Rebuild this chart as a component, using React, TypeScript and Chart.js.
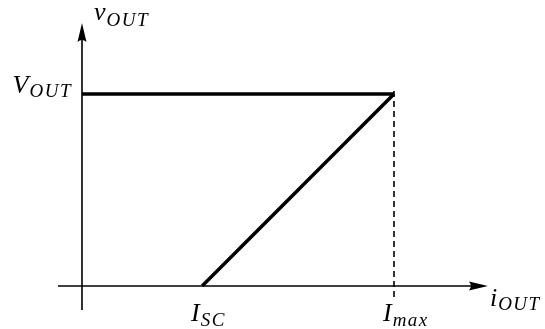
import React, { useEffect, useRef } from 'react';
import { Chart, registerables } from 'chart.js';

Chart.register(...registerables);

// ---- data (arbitrary units: I_max = 1, V_OUT = 1) ----
const currentMarks = [0.385, 1]; // I_SC, I_max
const currentMarkLabels = [['I', 'SC'], ['I', 'max']];
const voltageMarks = [1]; // V_OUT
const voltageMarkLabels = [['V', 'OUT']];
const xAxisTitle = ['i', 'OUT'];
const yAxisTitle = ['v', 'OUT'];

const limitX = [0, 1];
const limitY = [1, 1];
const foldbackX = [0.385, 1];
const foldbackY = [0, 1];
const markerX = [1, 1];
const markerY = [-0.057, 1.036];

const xAxisExtent = [-0.077, 1.301];
const yAxisExtent = [-0.125, 1.37];

const xView = [-0.2628, 1.484];
const yView = [-0.224, 1.4896];

const MAIN_FONT = 'italic 26px "Liberation Serif"';
const SUB_FONT = 'italic 19px "Liberation Serif"';

function drawSubText(ctx: CanvasRenderingContext2D, main: string, sub: string, x: number, y: number, align: 'left' | 'right', subDrop: number) {
  ctx.save();
  ctx.textBaseline = 'alphabetic';
  ctx.textAlign = 'left';
  ctx.font = MAIN_FONT;
  const mw = ctx.measureText(main).width;
  ctx.font = SUB_FONT;
  (ctx as any).letterSpacing = '1.5px';
  const sw = ctx.measureText(sub).width;
  const total = mw + 1 + sw;
  const x0 = align === 'left' ? x : x - total;
  ctx.font = MAIN_FONT;
  (ctx as any).letterSpacing = '0px';
  ctx.fillText(main, x0, y);
  ctx.font = SUB_FONT;
  (ctx as any).letterSpacing = '1.5px';
  ctx.fillText(sub, x0 + mw + 1, y + subDrop);
  ctx.restore();
}

const axesPlugin = {
  id: 'axesPlugin',
  afterDatasetsDraw(chart: any) {
    const ctx: CanvasRenderingContext2D = chart.ctx;
    const xs = chart.scales.x;
    const ys = chart.scales.y;
    const px = (v: number) => xs.getPixelForValue(v);
    const py = (v: number) => ys.getPixelForValue(v);
    ctx.save();
    ctx.strokeStyle = '#000';
    ctx.fillStyle = '#000';
    ctx.lineWidth = 1.6;
    // x axis
    const x0 = px(xAxisExtent[0]);
    const x1 = px(xAxisExtent[1]);
    const yAx = py(0);
    ctx.beginPath();
    ctx.moveTo(x0, yAx);
    ctx.lineTo(x1 - 10, yAx);
    ctx.stroke();
    ctx.beginPath();
    ctx.moveTo(x1, yAx);
    ctx.lineTo(x1 - 19, yAx - 4.5);
    ctx.quadraticCurveTo(x1 - 15, yAx, x1 - 19, yAx + 4.5);
    ctx.closePath();
    ctx.fill();
    // y axis
    const xAx = px(0);
    const yb = py(yAxisExtent[0]);
    const yt = py(yAxisExtent[1]);
    ctx.beginPath();
    ctx.moveTo(xAx, yb);
    ctx.lineTo(xAx, yt + 10);
    ctx.stroke();
    ctx.beginPath();
    ctx.moveTo(xAx, yt);
    ctx.lineTo(xAx - 4.5, yt + 19);
    ctx.quadraticCurveTo(xAx, yt + 15, xAx + 4.5, yt + 19);
    ctx.closePath();
    ctx.fill();
    // labels
    drawSubText(ctx, yAxisTitle[0], yAxisTitle[1], xAx + 12, py(yAxisExtent[1]) - 3, 'left', 6);
    drawSubText(ctx, xAxisTitle[0], xAxisTitle[1], x1 + 2, yAx + 20, 'left', 4);
    voltageMarks.forEach((v, i) => {
      drawSubText(ctx, voltageMarkLabels[i][0], voltageMarkLabels[i][1], xAx - 10, py(v) - 1, 'right', 4);
    });
    currentMarks.forEach((v, i) => {
      drawSubText(ctx, currentMarkLabels[i][0], currentMarkLabels[i][1], px(v) - 11, yAx + 35, 'left', 5);
    });
    ctx.restore();
  },
};

export default function App() {
  const ref = useRef<HTMLCanvasElement | null>(null);
  useEffect(() => {
    if (!ref.current) return;
    const pts = (xsArr: number[], ysArr: number[]) => xsArr.map((x, i) => ({ x, y: ysArr[i] }));
    const chart = new Chart(ref.current, {
      type: 'scatter',
      data: {
        datasets: [
          {
            data: pts(limitX, limitY),
            showLine: true,
            borderColor: '#000',
            borderWidth: 3.5,
            pointRadius: 0,
            borderCapStyle: 'butt',
          },
          {
            data: pts(foldbackX, foldbackY),
            showLine: true,
            borderColor: '#000',
            borderWidth: 3.5,
            pointRadius: 0,
            borderCapStyle: 'butt',
          },
          {
            data: pts(markerX, markerY),
            showLine: true,
            borderColor: '#000',
            borderWidth: 1.6,
            borderDash: [6, 4],
            pointRadius: 0,
          },
        ],
      },
      options: {
        responsive: false,
        animation: false,
        layout: { padding: 0, autoPadding: false } as any,
        plugins: { legend: { display: false }, tooltip: { enabled: false } },
        scales: {
          x: { type: 'linear', min: xView[0], max: xView[1], display: false },
          y: { type: 'linear', min: yView[0], max: yView[1], display: false },
        },
      },
      plugins: [axesPlugin],
    });
    return () => chart.destroy();
  }, []);
  return (
    <div style={{ position: 'fixed', left: 0, top: 0, width: 545, height: 329, background: '#fff' }}>
      <canvas ref={ref} width={545} height={329} />
    </div>
  );
}
